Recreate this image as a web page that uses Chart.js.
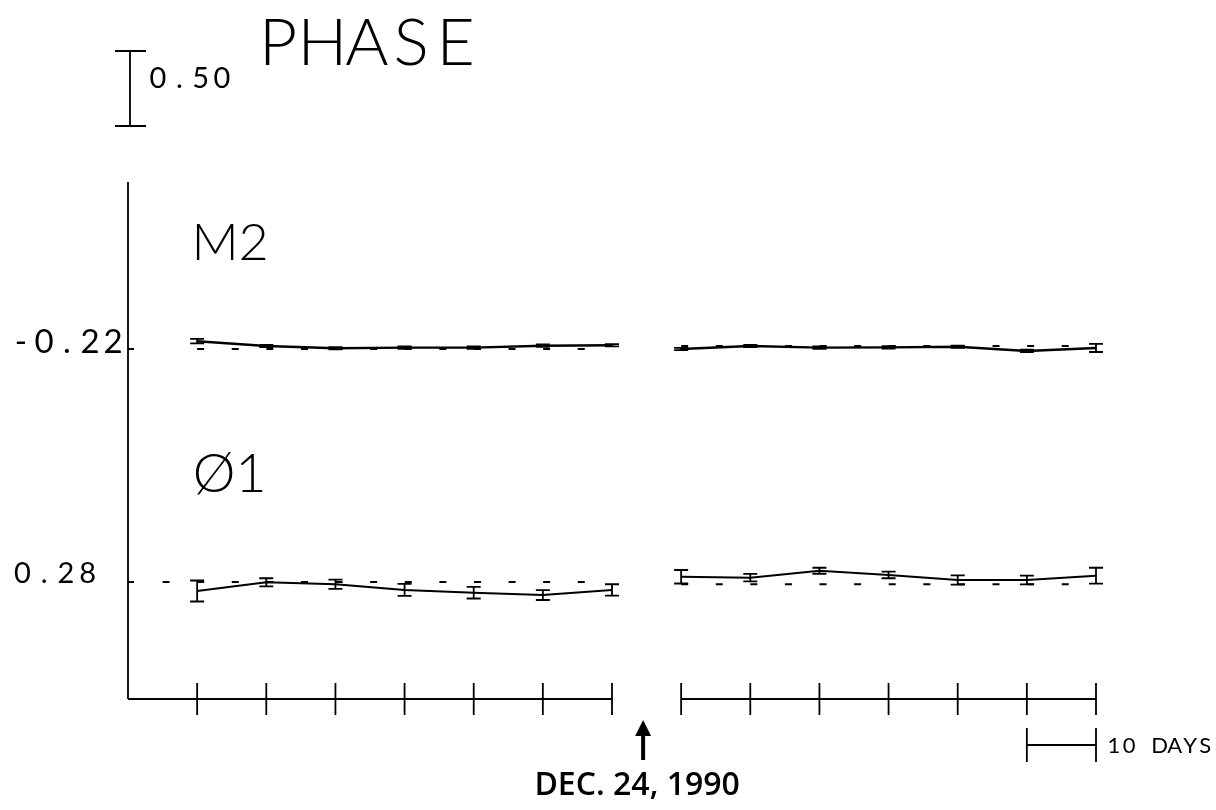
<!DOCTYPE html>
<html lang="en">
<head>
  <meta charset="UTF-8">
  <title>Phase - M2 / O1</title>
  <script src="https://cdn.jsdelivr.net/npm/chart.js"></script>
  <style>
    body {
      margin: 0;
      background: #fff;
    }
    #grafico {
      display: block;
    }
  </style>
</head>
<body>
  <canvas id="grafico" width="1216" height="810"></canvas>

  <script>
    // days from first sample; gap between the two runs (arrow at Dec. 24, 1990)
    const DAYS = [0, 10, 20, 30, 40, 50, 60, 70, 80, 90, 100, 110, 120, 130];

    const M2_PHASE = [-0.168, -0.200, -0.215, -0.211, -0.211, -0.198, -0.195,
                      -0.220, -0.200, -0.211, -0.209, -0.205, -0.233, -0.213];
    const M2_ERR   = [0.015, 0.008, 0.008, 0.008, 0.008, 0.008, 0.008,
                      0.008, 0.008, 0.008, 0.008, 0.008, 0.008, 0.027];

    const O1_PHASE = [0.220, 0.278, 0.265, 0.227, 0.209, 0.193, 0.227,
                      0.315, 0.309, 0.355, 0.327, 0.293, 0.293, 0.322];
    const O1_ERR   = [0.070, 0.027, 0.031, 0.040, 0.039, 0.033, 0.038,
                      0.045, 0.025, 0.020, 0.022, 0.031, 0.029, 0.053];

    // reference levels (y tick labels) and dashed model lines per run
    const M2_REF = -0.22;
    const O1_REF = 0.28;
    const M2_MODEL_X = [[0, 60], [70, 130]];
    const M2_MODEL_Y = [-0.22, -0.20];
    const O1_MODEL_X = [[-5, 60], [70, 130]];
    const O1_MODEL_Y = [0.28, 0.265];

    const RUNS = [[0, 7], [7, 14]];
    const AXIS_RUNS = [[-10, 60], [70, 130]];
    const EVENT_DAY = 64.5;
    const EVENT_LABEL = "DEC. 24, 1990";
    const SCALE_BAR = 0.50;
    const DAY_BAR = [120, 130];

    function pts(vals, a, b) {
      const out = [];
      for (let i = a; i < b; i++) out.push({ x: DAYS[i], y: vals[i] });
      return out;
    }

    function seg(xs, y) {
      return xs.map(x => ({ x: x, y: y }));
    }

    const datasets = [];
    RUNS.forEach(([a, b], r) => {
      datasets.push({ data: pts(M2_PHASE, a, b), yAxisID: "yM2", borderColor: "#000", borderWidth: 2.4 });
      datasets.push({ data: pts(O1_PHASE, a, b), yAxisID: "yO1", borderColor: "#000", borderWidth: 2 });
      datasets.push({ data: seg(M2_MODEL_X[r], M2_MODEL_Y[r]), yAxisID: "yM2", borderColor: "#000", borderWidth: 2, borderDash: [7, 27.6] });
      datasets.push({ data: seg(O1_MODEL_X[r], O1_MODEL_Y[r]), yAxisID: "yO1", borderColor: "#000", borderWidth: 2, borderDash: [7, 27.6] });
    });

    // plotter style text, fixed advance per character
    function plotText(ctx, str, x0, base, size, adv, weight) {
      ctx.font = (weight || 400) + " " + size + "px Lato";
      ctx.textAlign = "center";
      ctx.textBaseline = "alphabetic";
      for (let i = 0; i < str.length; i++) {
        ctx.fillText(str[i], x0 + i * adv, base);
      }
    }

    const decor = {
      id: "decor",
      afterDatasetsDraw(chart) {
        const ctx = chart.ctx;
        const xs = chart.scales.x;
        const yM2 = chart.scales.yM2;
        const yO1 = chart.scales.yO1;
        const area = chart.chartArea;
        ctx.save();
        ctx.strokeStyle = "#000";
        ctx.fillStyle = "#000";
        ctx.lineCap = "butt";

        // error bars
        ctx.lineWidth = 1.8;
        [[M2_PHASE, M2_ERR, yM2], [O1_PHASE, O1_ERR, yO1]].forEach(([v, e, ys]) => {
          for (let i = 0; i < DAYS.length; i++) {
            const px = xs.getPixelForValue(DAYS[i]);
            const t = ys.getPixelForValue(v[i] + e[i]);
            const b = ys.getPixelForValue(v[i] - e[i]);
            ctx.beginPath();
            ctx.moveTo(px, t); ctx.lineTo(px, b);
            ctx.moveTo(px - 7, t); ctx.lineTo(px + 7, t);
            ctx.moveTo(px - 7, b); ctx.lineTo(px + 7, b);
            ctx.stroke();
          }
        });

        // axes
        ctx.lineWidth = 1.8;
        ctx.beginPath();
        ctx.moveTo(area.left, area.top);
        ctx.lineTo(area.left, area.bottom);
        AXIS_RUNS.forEach(([a, b]) => {
          ctx.moveTo(xs.getPixelForValue(a), area.bottom);
          ctx.lineTo(xs.getPixelForValue(b), area.bottom);
        });
        DAYS.forEach(d => {
          const px = xs.getPixelForValue(d);
          ctx.moveTo(px, area.bottom - 16);
          ctx.lineTo(px, area.bottom + 16);
        });
        // reference ticks on y axis
        [[M2_REF, yM2], [O1_REF, yO1]].forEach(([r, ys]) => {
          const py = ys.getPixelForValue(r);
          ctx.moveTo(area.left, py); ctx.lineTo(area.left + 6, py);
        });
        ctx.stroke();

        // y labels
        plotText(ctx, M2_REF.toFixed(2), 21, yM2.getPixelForValue(M2_REF) + 4, 33, 23);
        plotText(ctx, O1_REF.toFixed(2), 22.5, yO1.getPixelForValue(O1_REF) + 1, 29, 21.7);

        // constituent names and title
        plotText(ctx, "M2", 215, 260, 52, 38.5, 300);
        plotText(ctx, "Ø1", 214, 492, 54, 37, 300);
        plotText(ctx, "PHASE", 278, 65, 66, 44.4, 300);

        // 0.50 scale bar
        const len = Math.abs(yO1.getPixelForValue(0) - yO1.getPixelForValue(SCALE_BAR));
        ctx.beginPath();
        ctx.moveTo(130, 51); ctx.lineTo(130, 51 + len);
        ctx.moveTo(115, 51); ctx.lineTo(146, 51);
        ctx.moveTo(115, 51 + len); ctx.lineTo(146, 51 + len);
        ctx.stroke();
        plotText(ctx, SCALE_BAR.toFixed(2), 158, 88, 29, 21.3);

        // 10 days bar
        const d0 = xs.getPixelForValue(DAY_BAR[0]);
        const d1 = xs.getPixelForValue(DAY_BAR[1]);
        const by = 745;
        ctx.beginPath();
        ctx.moveTo(d0, by); ctx.lineTo(d1, by);
        ctx.moveTo(d0, by - 17); ctx.lineTo(d0, by + 17);
        ctx.moveTo(d1, by - 17); ctx.lineTo(d1, by + 17);
        ctx.stroke();
        plotText(ctx, "10 DAYS", 1114, 753, 22, 15.2, 400);

        // event arrow
        const ax = xs.getPixelForValue(EVENT_DAY);
        ctx.lineWidth = 4;
        ctx.beginPath();
        ctx.moveTo(ax, 760); ctx.lineTo(ax, 732);
        ctx.stroke();
        ctx.beginPath();
        ctx.moveTo(ax, 720); ctx.lineTo(ax - 8, 736); ctx.lineTo(ax + 8, 736);
        ctx.closePath();
        ctx.fill();

        ctx.font = "600 32px 'Open Sans'";
        ctx.textAlign = "center";
        ctx.textBaseline = "alphabetic";
        ctx.fillText(EVENT_LABEL, ax - 6, 795);
        ctx.restore();
      }
    };

    new Chart(document.getElementById("grafico").getContext("2d"), {
      type: "line",
      data: { datasets: datasets },
      options: {
        responsive: false,
        animation: false,
        devicePixelRatio: 1,
        layout: { padding: { left: 128, top: 182, right: 120, bottom: 111 } },
        elements: { point: { radius: 0 }, line: { tension: 0 } },
        plugins: { legend: { display: false }, tooltip: { enabled: false } },
        scales: {
          x: { type: "linear", min: -10, max: 130, display: false },
          yM2: { type: "linear", min: -2.553, max: 0.893, display: false },
          yO1: { type: "linear", min: -0.500, max: 2.947, display: false }
        }
      },
      plugins: [decor]
    });
  </script>
</body>
</html>
